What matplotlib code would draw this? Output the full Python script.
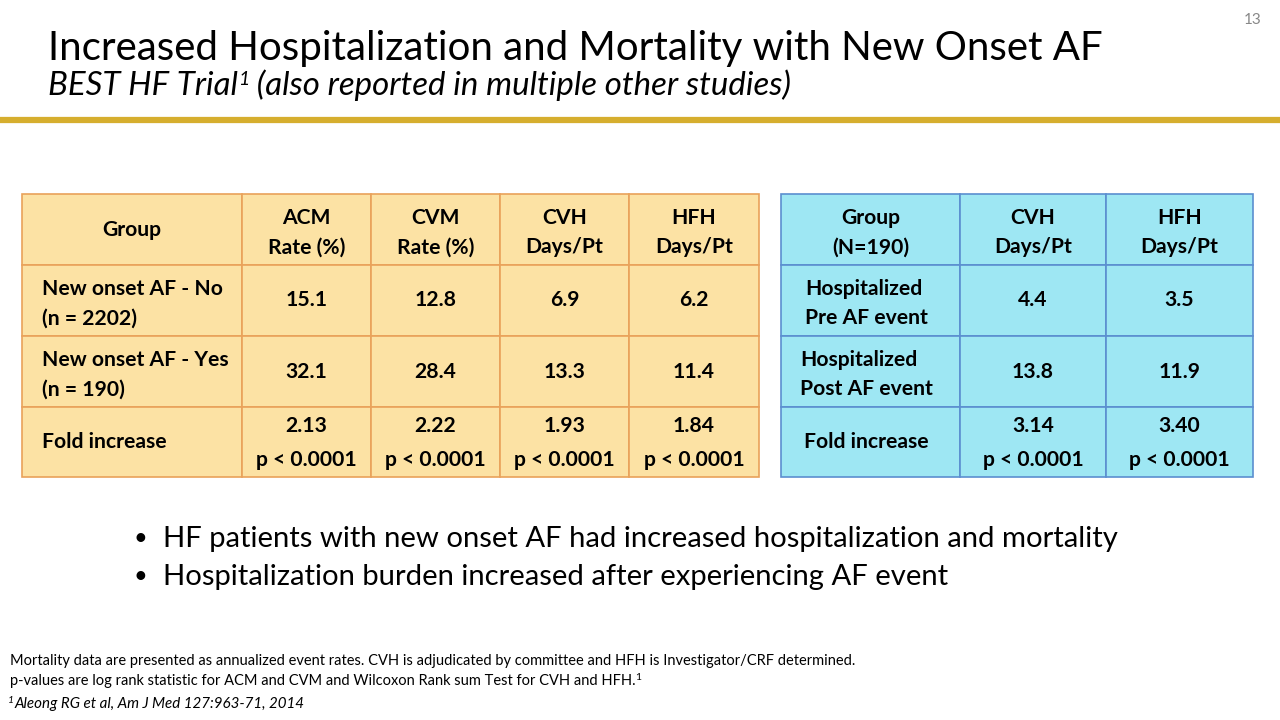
import matplotlib
matplotlib.use('Agg')
import matplotlib.pyplot as plt
import matplotlib.patches as mpatches

# ── data ─────────────────────────────────────────────────────────────────────
left_headers = ['Group', 'ACM\nRate (%)', 'CVM\nRate (%)', 'CVH\nDays/Pt', 'HFH\nDays/Pt']
left_groups = ['New onset AF - No\n(n = 2202)', 'New onset AF - Yes\n(n = 190)', 'Fold increase']
acm_rate = [15.1, 32.1, 2.13]
cvm_rate = [12.8, 28.4, 2.22]
cvh_days = [6.9, 13.3, 1.93]
hfh_days = [6.2, 11.4, 1.84]
left_pvals = ['p < 0.0001', 'p < 0.0001', 'p < 0.0001', 'p < 0.0001']

right_headers = ['Group\n(N=190)', 'CVH\nDays/Pt', 'HFH\nDays/Pt']
right_groups = ['Hospitalized\nPre AF event', 'Hospitalized\nPost AF event', 'Fold increase']
cvh_pre_post = [4.4, 13.8, 3.14]
hfh_pre_post = [3.5, 11.9, 3.40]
right_pvals = ['p < 0.0001', 'p < 0.0001']

bullets = ['HF patients with new onset AF had increased hospitalization and mortality',
           'Hospitalization burden increased after experiencing AF event']

FONT = 'Lato'

fig = plt.figure(figsize=(12.8, 7.2), dpi=100)
ax = fig.add_axes([0, 0, 1, 1])
ax.set_xlim(0, 1280); ax.set_ylim(720, 0)
ax.axis('off')
fig.patch.set_facecolor('white')


def draw_pieces(x, y, pieces, color='black'):
    # pieces: (text, fontsize, style, dy)
    fig.canvas.draw()
    r = fig.canvas.get_renderer()
    inv = ax.transData.inverted()
    for txt, fs, style, dy in pieces:
        t = ax.text(x, y + dy, txt, fontsize=fs, fontstyle=style, family=FONT,
                    color=color, ha='left', va='baseline')
        bb = t.get_window_extent(renderer=r)
        x0 = inv.transform((bb.x0, bb.y0))[0]
        x1 = inv.transform((bb.x1, bb.y0))[0]
        x += x1 - x0


def draw_table(col_edges, row_edges, face, edge, headers, groups, cols, pvals, group_center):
    for i in range(len(row_edges) - 1):
        for j in range(len(col_edges) - 1):
            ax.add_patch(mpatches.Rectangle((col_edges[j], row_edges[i]),
                                            col_edges[j+1] - col_edges[j],
                                            row_edges[i+1] - row_edges[i],
                                            facecolor=face, edgecolor=edge, lw=1.2))
    fs = 15.2
    ls = 1.6
    yc = (row_edges[0] + row_edges[1]) / 2
    for j, h in enumerate(headers):
        xc = (col_edges[j] + col_edges[j+1]) / 2
        dy = 3 if '\n' in h else 0
        ax.text(xc, yc + dy, h, ha='center', va='center', fontsize=fs, fontweight='bold',
                family=FONT, linespacing=ls)
    for i, g in enumerate(groups):
        yc = (row_edges[i+1] + row_edges[i+2]) / 2
        dy = 3 if '\n' in g else 0
        if group_center:
            ax.text((col_edges[0] + col_edges[1]) / 2 - 4, yc + dy, g, ha='center',
                    va='center', multialignment='left', fontsize=fs, fontweight='bold',
                    family=FONT, linespacing=ls)
        else:
            ax.text(col_edges[0] + 20, yc + dy, g, ha='left', va='center', fontsize=fs,
                    fontweight='bold', family=FONT, linespacing=ls)
        last = i == len(groups) - 1
        for j, vals in enumerate(cols):
            xc = (col_edges[j+1] + col_edges[j+2]) / 2
            if last:
                ax.text(xc, yc - 16, f'{vals[i]:.2f}', ha='center', va='center',
                        fontsize=fs, fontweight='bold', family=FONT)
                ax.text(xc, yc + 18, pvals[j], ha='center', va='center',
                        fontsize=fs, fontweight='bold', family=FONT)
            else:
                ax.text(xc, yc, f'{vals[i]:.1f}', ha='center', va='center',
                        fontsize=fs, fontweight='bold', family=FONT)


rows = [194, 265, 336, 407, 477]
draw_table([22, 242, 371, 500, 629, 759], rows, '#FCE2A4', '#E9A25A',
           left_headers, left_groups, [acm_rate, cvm_rate, cvh_days, hfh_days],
           left_pvals, False)
draw_table([781, 960, 1106, 1253], rows, '#9EE7F3', '#5B8FD0',
           right_headers, right_groups, [cvh_pre_post, hfh_pre_post],
           right_pvals, True)

# ── header ───────────────────────────────────────────────────────────────────
ax.text(48, 60, 'Increased Hospitalization and Mortality with New Onset AF', fontsize=29,
        family=FONT, ha='left', va='baseline', color='black')
draw_pieces(48, 95, [('BEST HF Trial', 23.8, 'italic', 0), ('1', 14, 'italic', -10),
                     (' (also reported in multiple other studies)', 23.8, 'italic', 0)])
ax.text(1262, 20, '13', fontsize=11, family=FONT, ha='right', va='center', color='#888888')
ax.plot([0, 1280], [120, 120], color='#D6AE2E', lw=4.5, solid_capstyle='butt')

# ── bullets ──────────────────────────────────────────────────────────────────
for k, b in enumerate(bullets):
    y = 539 + k * 38
    ax.text(133, y, '\u2022', fontsize=17, family=FONT, ha='left', va='center')
    ax.text(163, y, b, fontsize=21.1, family=FONT, ha='left', va='center')

# ── footnotes ────────────────────────────────────────────────────────────────
ax.text(10, 661, 'Mortality data are presented as annualized event rates. CVH is adjudicated by '
        'committee and HFH is Investigator/CRF determined.', fontsize=10.5, family=FONT,
        ha='left', va='center')
draw_pieces(10, 685, [('p-values are log rank statistic for ACM and CVM and Wilcoxon Rank sum '
                       'Test for CVH and HFH.', 10.5, 'normal', 0), ('1', 7.5, 'normal', -5)])
draw_pieces(8, 708, [('1', 7.5, 'italic', -5),
                     ('Aleong RG et al, Am J Med 127:963-71, 2014', 10.9, 'italic', 0)])

plt.savefig('out.png', dpi=100, facecolor='white')
plt.close()
